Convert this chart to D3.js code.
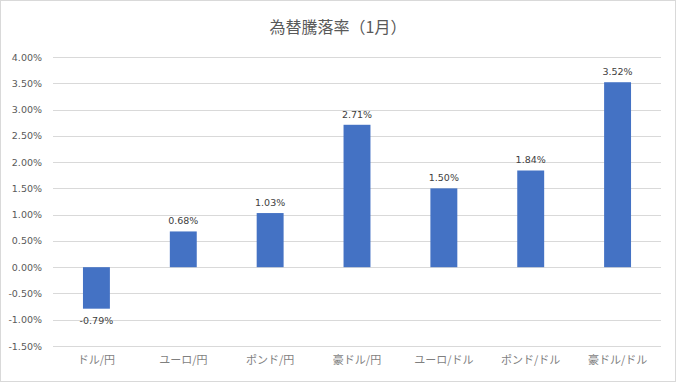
<!DOCTYPE html>
<html>
<head>
<meta charset="utf-8">
<script src="https://cdn.jsdelivr.net/npm/d3@7"></script>
<style>
  body { margin: 0; background: #fff; }
  svg text { font-family: "Noto Sans CJK JP", "DejaVu Sans", sans-serif; }
</style>
</head>
<body>
<svg id="chart" width="676" height="382"></svg>
<script>
// chart data
var title = "為替騰落率（1月）";
var categories = ["ドル/円", "ユーロ/円", "ポンド/円", "豪ドル/円", "ユーロ/ドル", "ポンド/ドル", "豪ドル/ドル"];
var values = [-0.79, 0.68, 1.03, 2.71, 1.50, 1.84, 3.52];
var yTicks = [-1.5, -1.0, -0.5, 0, 0.5, 1.0, 1.5, 2.0, 2.5, 3.0, 3.5, 4.0];

var svg = d3.select("#chart");
var width = 676, height = 382;
var margin = {top: 57, right: 15, bottom: 36, left: 53};

// outer border
svg.append("rect")
    .attr("x", 0.5).attr("y", 0.5)
    .attr("width", width - 1).attr("height", height - 1)
    .attr("fill", "#fff")
    .attr("stroke", "#d9d9d9");

svg.append("text")
    .attr("x", width / 2)
    .attr("y", 33)
    .attr("text-anchor", "middle")
    .attr("fill", "#595959")
    .style("font-size", "16px")
    .text(title);

var xScale = d3.scaleBand()
    .domain(categories)
    .range([margin.left, width - margin.right])
    .paddingInner(0.69)
    .paddingOuter(0.345);

var yScale = d3.scaleLinear()
    .domain([-1.5, 4.0])
    .range([height - margin.bottom, margin.top]);

// gridlines
svg.append("g")
    .selectAll("line")
    .data(yTicks)
    .enter().append("line")
    .attr("x1", margin.left)
    .attr("x2", width - margin.right)
    .attr("y1", function(d) { return Math.round(yScale(d)) + 0.5; })
    .attr("y2", function(d) { return Math.round(yScale(d)) + 0.5; })
    .attr("stroke", "#d9d9d9")
    .attr("stroke-width", 1);

// y axis labels
var yAxis = d3.axisLeft(yScale)
    .tickValues(yTicks)
    .tickSize(0)
    .tickPadding(11)
    .tickFormat(function(d) { return d.toFixed(2) + "%"; });

var yG = svg.append("g")
    .attr("transform", "translate(" + margin.left + ",0)")
    .call(yAxis);
yG.select(".domain").remove();
yG.selectAll("text")
    .attr("fill", "#595959")
    .style("font-family", "'DejaVu Sans', sans-serif")
    .style("font-size", "9.5px");

// bars
svg.append("g")
    .selectAll("rect")
    .data(values)
    .enter().append("rect")
    .attr("x", function(d, i) { return xScale(categories[i]); })
    .attr("width", xScale.bandwidth())
    .attr("y", function(d) { return yScale(Math.max(0, d)); })
    .attr("height", function(d) { return Math.abs(yScale(d) - yScale(0)); })
    .attr("fill", "#4472c4");

// data labels
svg.append("g")
    .selectAll("text")
    .data(values)
    .enter().append("text")
    .attr("x", function(d, i) { return xScale(categories[i]) + xScale.bandwidth() / 2; })
    .attr("y", function(d) { return d < 0 ? yScale(d) + 15 : yScale(d) - 7; })
    .attr("text-anchor", "middle")
    .attr("fill", "#404040")
    .style("font-family", "'DejaVu Sans', sans-serif")
    .style("font-size", "9.5px")
    .text(function(d) { return d.toFixed(2) + "%"; });

// x axis labels
var xAxis = d3.axisBottom(xScale).tickSize(0).tickPadding(10);
var xG = svg.append("g")
    .attr("transform", "translate(0," + (height - margin.bottom) + ")")
    .call(xAxis);
xG.select(".domain").remove();
xG.selectAll("text")
    .attr("fill", "#7f7f7f")
    .style("font-size", "11px");
</script>
</body>
</html>
